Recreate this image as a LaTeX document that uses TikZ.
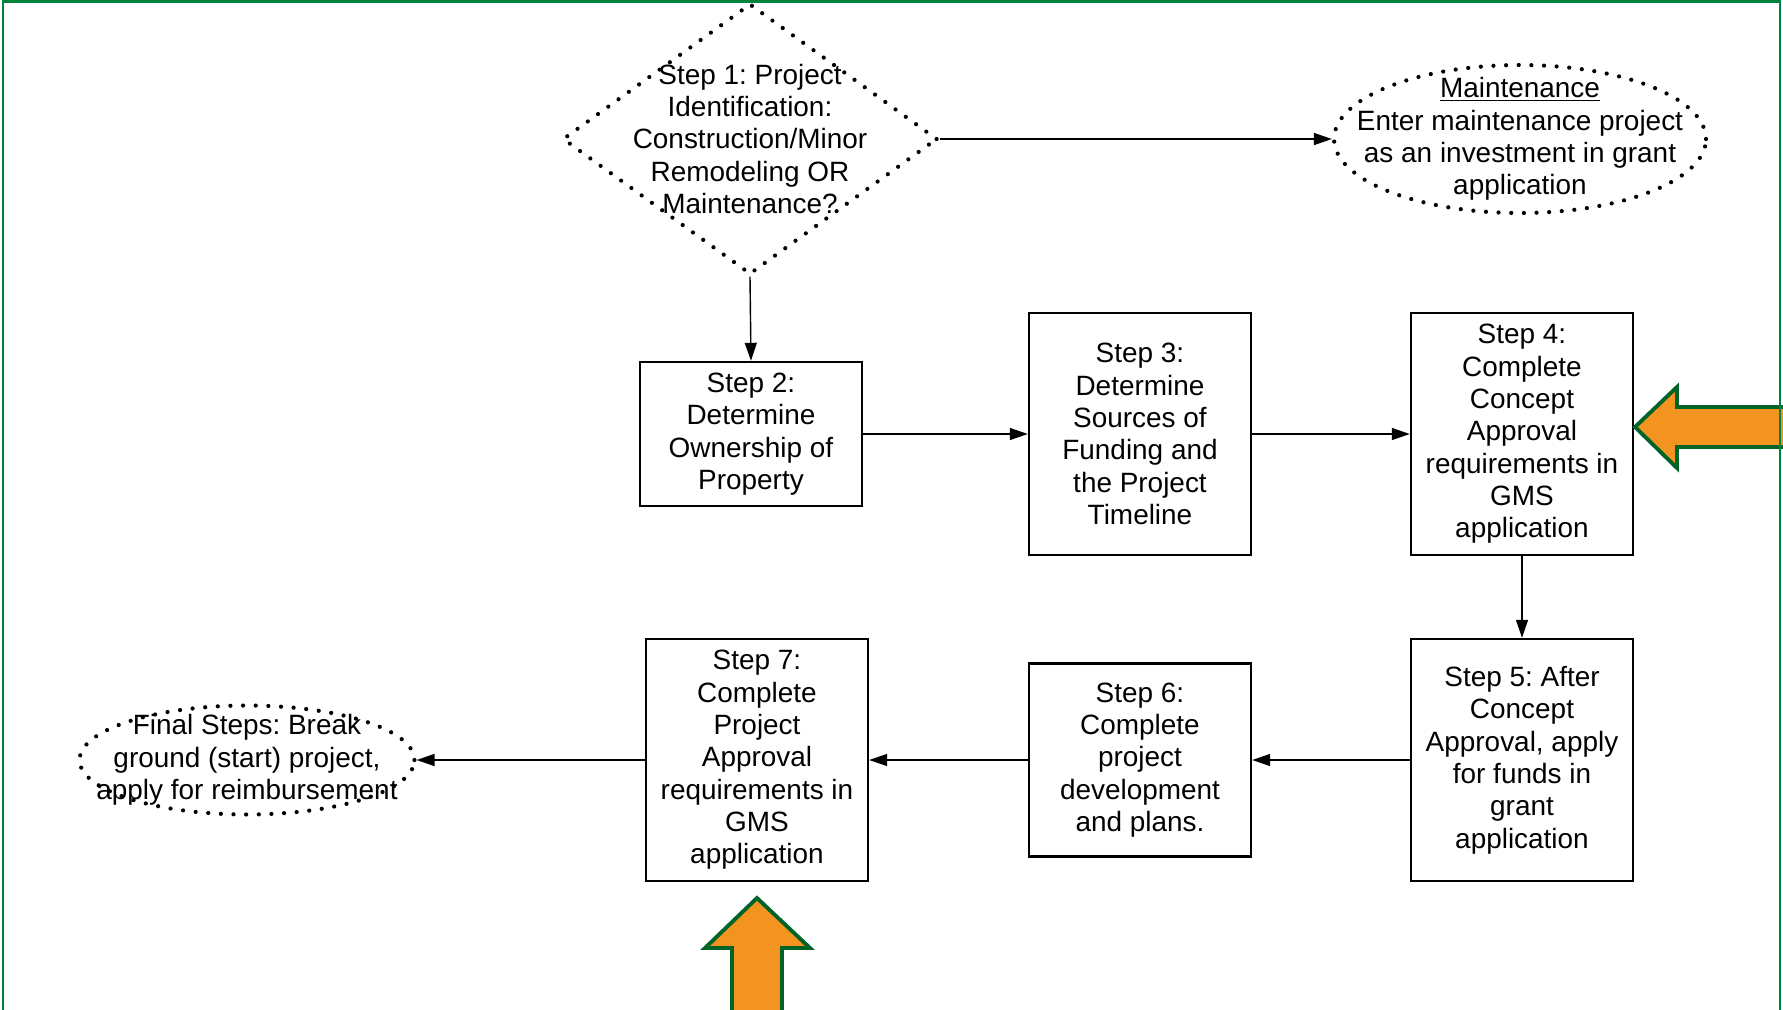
\documentclass[tikz,border=0pt]{standalone}
\usepackage{fontspec}
\setmainfont{Liberation Sans}
\usepackage{tikz}
\usetikzlibrary{shapes.geometric,arrows.meta}
\definecolor{bordergreen}{RGB}{0,132,61}
\definecolor{arrowgreen}{RGB}{0,100,40}
\definecolor{arroworange}{RGB}{243,147,32}
\tikzstyle{stepbox}=[draw, line width=1.4pt, align=center, inner sep=0pt]
\tikzstyle{dotline}=[line width=2.4pt, line cap=round, dash pattern=on 0pt off 7.2pt]
\tikzstyle{decision}=[diamond, draw, dotline, minimum width=7.5cm, minimum height=5.42cm, inner sep=0pt]
\tikzstyle{outcome}=[ellipse, draw, dotline, inner sep=0pt]
\tikzstyle{flow}=[-{Triangle[length=0.36cm,width=0.24cm]}, line width=0.8pt]
\tikzstyle{bigarrow}=[fill=arroworange, draw=arrowgreen, line width=2.2pt, line join=miter]
\frenchspacing

\begin{document}
\begin{tikzpicture}[x=0.02cm, y=-0.02cm, font=\fontsize{15.9}{18.4}\selectfont]
	\clip (0,0) rectangle (1783,1009);
%
	\node[decision] (s1) at (750,139) {};
	\node[align=center] at (s1) {Step 1: Project\\Identification:\\Construction/Minor\\Remodeling OR\\Maintenance?};
	\node[outcome, minimum width=7.44cm, minimum height=2.96cm] (maint) at (1520,139) {};
	\node[align=center] at (maint) {\underline{Maintenance}\\Enter maintenance project\\as an investment in grant\\application};
%
	\node[stepbox, minimum width=4.44cm, minimum height=2.88cm] (s2) at (751,434) {Step 2:\\Determine\\Ownership of\\Property};
	\node[stepbox, minimum width=4.44cm, minimum height=4.84cm] (s3) at (1140,434) {Step 3:\\Determine\\Sources of\\Funding and\\the Project\\Timeline};
	\node[stepbox, minimum width=4.44cm, minimum height=4.84cm] (s4) at (1522,434) {Step 4:\\Complete\\Concept\\Approval\\requirements in\\GMS\\application};
	\node[stepbox, minimum width=4.44cm, minimum height=4.84cm] (s5) at (1522,760) {Step 5: After\\Concept\\Approval, apply\\for funds in\\grant\\application};
	\node[stepbox, minimum width=4.44cm, minimum height=3.86cm] (s6) at (1140,760) {Step 6:\\Complete\\project\\development\\and plans.};
	\node[stepbox, minimum width=4.44cm, minimum height=4.84cm] (s7) at (757,760) {Step 7:\\Complete\\Project\\Approval\\requirements in\\GMS\\application};
%
	\node[outcome, minimum width=6.7cm, minimum height=2.18cm] (final) at (247,760) {};
	\node[align=center] at (final) {Final Steps: Break\\ground (start) project,\\apply for reimbursement};
%
	\draw[flow] (s1.east) -- (maint.west);
	\draw[flow] (s1.south) -- (s2.north);
	\draw[flow] (s2.east) -- (s3.west);
	\draw[flow] (s3.east) -- (s4.west);
	\draw[flow] (s4.south) -- (s5.north);
	\draw[flow] (s5.west) -- (s6.east);
	\draw[flow] (s6.west) -- (s7.east);
	\draw[flow] (s7.west) -- (final.east);
%
	\draw[bigarrow] (1635,427) -- (1677,387) -- (1677,407) -- (1800,407) -- (1800,447) -- (1677,447) -- (1677,468) -- cycle;
	\draw[bigarrow] (757,898) -- (810,948) -- (782,948) -- (782,1030) -- (732,1030) -- (732,948) -- (705,948) -- cycle;
%
	\draw[bordergreen, line width=1.2pt] (3,1030) -- (3,1.5) -- (1780,1.5) -- (1780,1030);
\end{tikzpicture}
\end{document}
